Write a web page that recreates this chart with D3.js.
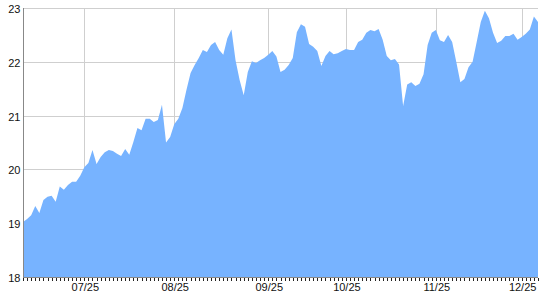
<!DOCTYPE html>
<html>
<head>
<meta charset="utf-8">
<script src="https://cdn.jsdelivr.net/npm/d3@7"></script>
<style>
  body { margin: 0; background: #fff; }
  svg { display: block; font-family: "Liberation Sans", Arial, sans-serif; }
</style>
</head>
<body>
<div id="chart"></div>
<script>
// one value per trading day
var values = [
    19.02, 19.08, 19.15, 19.32, 19.19, 19.43, 19.49, 19.51, 19.40, 19.68,
    19.62, 19.71, 19.77, 19.77, 19.88, 20.04, 20.12, 20.36, 20.10, 20.23,
    20.32, 20.36, 20.34, 20.29, 20.25, 20.38, 20.27, 20.51, 20.77, 20.73,
    20.94, 20.94, 20.88, 20.92, 21.20, 20.50, 20.60, 20.84, 20.94, 21.14,
    21.48, 21.79, 21.94, 22.07, 22.22, 22.18, 22.31, 22.37, 22.22, 22.13,
    22.44, 22.60, 22.03, 21.66, 21.38, 21.81, 22.01, 21.98, 22.03, 22.07,
    22.13, 22.20, 22.10, 21.81, 21.85, 21.94, 22.07, 22.55, 22.70, 22.65,
    22.33, 22.28, 22.20, 21.92, 22.11, 22.20, 22.14, 22.16, 22.20, 22.24,
    22.22, 22.22, 22.37, 22.41, 22.54, 22.59, 22.57, 22.61, 22.41, 22.11,
    22.03, 22.05, 21.95, 21.18, 21.58, 21.62, 21.55, 21.59, 21.77, 22.31,
    22.54, 22.59, 22.40, 22.37, 22.50, 22.37, 22.00, 21.62, 21.68, 21.90,
    22.00, 22.37, 22.74, 22.95, 22.81, 22.54, 22.35, 22.39, 22.48, 22.48,
    22.52, 22.41, 22.46, 22.52, 22.60, 22.84, 22.74
];

var tickLabels = ['07/25', '08/25', '09/25', '10/25', '11/25', '12/25'];
var tickIndex = [15, 37, 60, 79, 101, 122];
var yTicks = [18, 19, 20, 21, 22, 23];

var width = 540, height = 300;
var plotLeft = 23, plotRight = 538, plotTop = 8, plotBottom = 277;

var svg = d3.select('#chart').append('svg')
    .attr('width', width)
    .attr('height', height);

var x = d3.scaleLinear().domain([0, values.length - 1]).range([plotLeft, plotRight]);
var y = d3.scaleLinear().domain([18, 23]).range([plotBottom, plotTop]);

// grid
svg.append('g')
    .selectAll('line')
    .data(yTicks)
    .enter().append('line')
    .attr('x1', plotLeft)
    .attr('x2', plotRight)
    .attr('y1', function(d) { return Math.round(y(d)) + 0.5; })
    .attr('y2', function(d) { return Math.round(y(d)) + 0.5; })
    .attr('stroke', '#cfcfcf');

svg.append('g')
    .selectAll('line')
    .data(tickIndex)
    .enter().append('line')
    .attr('x1', function(d) { return Math.round(x(d)) + 0.5; })
    .attr('x2', function(d) { return Math.round(x(d)) + 0.5; })
    .attr('y1', plotTop)
    .attr('y2', plotBottom)
    .attr('stroke', '#cfcfcf');

// area
var area = d3.area()
    .x(function(d, i) { return x(i); })
    .y0(plotBottom)
    .y1(function(d) { return y(d); });

svg.append('path')
    .datum(values)
    .attr('d', area)
    .attr('fill', '#77b3ff');

// axes
svg.append('line')
    .attr('x1', plotLeft + 0.5).attr('x2', plotLeft + 0.5)
    .attr('y1', plotTop).attr('y2', plotBottom + 1)
    .attr('stroke', '#888');

svg.append('line')
    .attr('x1', plotLeft).attr('x2', plotRight)
    .attr('y1', plotBottom + 0.5).attr('y2', plotBottom + 0.5)
    .attr('stroke', '#888');

svg.append('g')
    .selectAll('line')
    .data(d3.range(values.length))
    .enter().append('line')
    .attr('x1', function(d) { return Math.round(x(d)) + 0.5; })
    .attr('x2', function(d) { return Math.round(x(d)) + 0.5; })
    .attr('y1', plotBottom + 1)
    .attr('y2', plotBottom + 4)
    .attr('stroke', '#222');

svg.append('g')
    .selectAll('text')
    .data(yTicks)
    .enter().append('text')
    .attr('x', 20.5)
    .attr('y', function(d) { return y(d) + 5; })
    .attr('text-anchor', 'end')
    .attr('font-size', 11)
    .attr('fill', '#111')
    .text(function(d) { return d; });

svg.append('g')
    .selectAll('text')
    .data(tickIndex)
    .enter().append('text')
    .attr('x', function(d) { return x(d) + 1; })
    .attr('y', 291)
    .attr('text-anchor', 'middle')
    .attr('font-size', 11)
    .attr('fill', '#111')
    .text(function(d, i) { return tickLabels[i]; });
</script>
</body>
</html>
